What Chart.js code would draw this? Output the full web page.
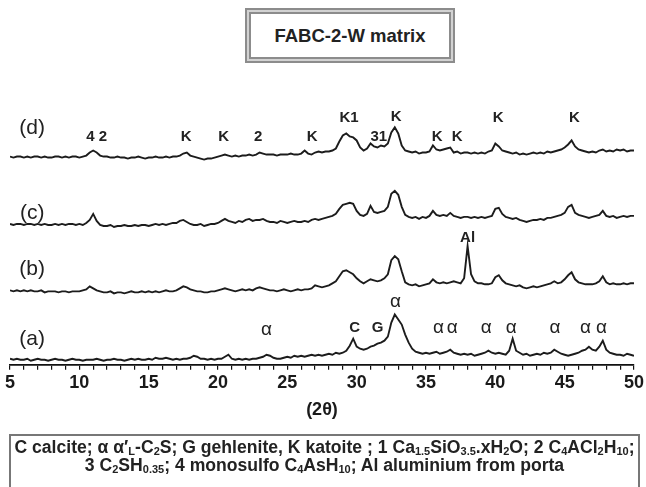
<!DOCTYPE html>
<html>
<head>
<meta charset="utf-8">
<script src="https://cdn.jsdelivr.net/npm/chart.js@4.4.1/dist/chart.umd.min.js"></script>
<style>
  body { margin: 0; background: #fff; }
  #wrap { position: relative; width: 646px; height: 487px; overflow: hidden; font-family: "Liberation Sans", Arial, sans-serif; }
  #chart { position: absolute; left: 0; top: 0; }
  #titleBox {
    position: absolute; left: 245px; top: 8px; width: 202px; height: 47px;
    border: 2px solid #8c8c8c; background: #d2d2d2; padding: 2px; box-sizing: content-box;
  }
  #titleInner {
    width: 100%; height: 100%; box-sizing: border-box; border: 2px solid #8c8c8c; background: #fff;
    display: flex; align-items: center; justify-content: center;
    font-weight: bold; font-size: 18.5px; color: #222;
  }
  #keyBox {
    position: absolute; left: 9px; top: 434px; width: 631px; height: 70px; box-sizing: border-box;
    border: 2px solid #777; text-align: center; font-weight: bold; font-size: 17.6px; line-height: 18px;
    color: #222; padding-top: 2px; white-space: nowrap;
  }
  #keyBox sub { font-size: 11px; vertical-align: -2px; line-height: 0; }
</style>
</head>
<body>
<div id="wrap">
  <canvas id="chart" width="646" height="487"></canvas>
  <div id="titleBox"><div id="titleInner">FABC-2-W matrix</div></div>
  <div id="keyBox">
    C calcite; &alpha; &alpha;&prime;<sub>L</sub>-C<sub>2</sub>S; G gehlenite, K katoite ; 1 Ca<sub>1.5</sub>SiO<sub>3.5</sub>.xH<sub>2</sub>O; 2 C<sub>4</sub>ACl<sub>2</sub>H<sub>10</sub>;<br>
    3 C<sub>2</sub>SH<sub>0.35</sub>; 4 monosulfo C<sub>4</sub>AsH<sub>10</sub>; Al aluminium from porta
  </div>
</div>
<script>
// 2theta sampling of the patterns
const angleStart = 5;
const angleStep = 0.25;

// intensities (arbitrary units), one value per 0.25 deg from 5 to 50
const traceA = [
  6,5,6,5, 5,6,4,5, 6,5,5,4, 5,6,5,5, 4,5,6,5,
  5,4,5,5, 5,6,5,4, 5,5,6,5, 5,4,5,6, 5,6,5,5,
  6,5,7,6, 6,7,6,5, 6,5,6,6, 7,9,8,6, 6,5,6,5,
  6,6,8,10, 6,5,6,5, 6,5,6,6, 7,8,10,9, 7,6,6,7,
  8,7,9,8, 9,8,9,10, 9,10,9,10, 11,10,12,11, 12,14,19,26,
  18,16,15,16, 18,19,21,22, 24,28,42,50, 45,40,30,22, 16,13,12,11,
  12,11,12,13, 11,12,13,15, 12,11,10,11, 10,11,9,10, 11,12,14,12,
  11,12,11,10, 14,26,14,12, 10,11,9,10, 11,10,12,11, 12,15,13,11,
  10,9,10,11, 12,14,15,18, 15,14,18,24, 15,12,11,10, 10,9,11,10,
  9,
];
const traceB = [
  6,5,6,5, 6,5,6,5, 5,6,4,5, 5,5,4,5, 5,4,5,5,
  5,6,7,10, 8,6,5,4, 4,5,3,4, 4,3,4,5, 4,4,5,4,
  5,4,5,4, 5,6,5,5, 6,8,10,9, 7,6,5,5, 4,4,5,5,
  6,7,8,7, 6,5,6,7, 6,7,6,8, 9,8,7,6, 6,5,6,7,
  6,5,6,7, 6,7,7,8, 11,10,9,10, 11,13,15,20, 25,26,24,22,
  18,15,13,15, 17,16,15,16, 18,22,36,40, 37,25,14,12, 11,12,10,11,
  12,13,17,14, 13,14,13,14, 15,14,13,18, 50,22,15,13, 13,12,12,13,
  19,21,16,13, 12,11,10,11, 9,8,9,10, 9,10,11,12, 13,15,13,14,
  17,21,24,17, 14,13,12,12, 12,13,15,20, 14,12,13,12, 12,13,12,13,
  13,
];
const traceC = [
  5,4,5,5, 4,5,5,4, 5,4,5,4, 4,5,4,5, 4,5,5,4,
  5,4,6,9, 15,8,4,3, 3,4,2,3, 3,4,3,3, 4,3,4,4,
  3,4,5,4, 5,4,5,6, 6,8,9,7, 5,4,4,5, 3,4,5,5,
  6,8,10,8, 7,6,8,7, 9,10,8,9, 9,10,8,7, 7,6,8,7,
  6,7,8,7, 7,8,7,9, 10,9,10,11, 12,13,15,20, 24,25,26,25,
  18,14,13,15, 23,17,16,17, 18,22,35,38, 34,22,14,12, 11,12,10,12,
  11,13,18,14, 13,14,13,16, 13,12,11,12, 12,11,12,11, 12,11,12,13,
  20,21,15,12, 11,10,11,9, 8,7,8,9, 9,10,9,11, 11,12,13,14,
  16,22,24,16, 14,13,12,11, 12,13,14,18, 13,12,13,11, 12,13,12,13,
  13,
];
const traceD = [
  7,6,7,7, 6,7,6,7, 7,6,7,6, 6,7,7,6, 7,6,7,7,
  6,7,8,11, 13,11,8,7, 7,6,6,7, 6,6,5,6, 6,7,6,5,
  6,6,7,6, 6,7,6,7, 7,8,10,11, 8,7,6,5, 4,5,5,6,
  7,8,9,8, 7,8,7,8, 8,9,8,9, 11,10,9,9, 9,8,9,9,
  9,10,9,9, 10,13,10,9, 11,12,11,12, 12,13,15,22, 28,30,27,26,
  23,16,13,15, 20,17,16,18, 17,20,31,36, 30,18,13,12, 11,12,10,11,
  11,12,18,14, 13,14,15,16, 11,12,10,11, 11,10,11,10, 11,10,12,13,
  20,17,13,12, 11,10,11,9, 10,9,10,11, 10,11,10,12, 11,12,13,14,
  16,19,23,17, 14,13,12,11, 12,11,13,14, 12,13,12,14, 13,14,12,13,
  13,
];

const traces = [traceA, traceB, traceC, traceD];
const traceNames = ["(a)", "(b)", "(c)", "(d)"];
const traceOffsets = [0, 68, 135, 200];

// peak identifications: [2theta, height, text]
const phaseLabels = [
  [10.8, 227, "4"], [11.7, 227, "2"], [17.7, 227, "K"], [20.4, 227, "K"],
  [22.9, 227, "2"], [26.8, 227, "K"], [29.45, 245, "K1"], [32.85, 246, "K"],
  [31.6, 227, "31"], [35.8, 227, "K"], [37.25, 227, "K"], [40.2, 245, "K"],
  [45.7, 245, "K"], [38.0, 126, "Al"], [29.85, 37, "C"], [31.5, 37, "G"],
];
const alphaLabels = [
  [23.5, 35], [32.8, 63], [35.9, 37], [36.9, 37], [39.35, 37],
  [41.15, 37], [44.3, 37], [46.5, 37], [47.65, 37],
];
const nameAngle = 6.6;
const nameHeights = [25, 95, 151, 235];

const labelPlugin = {
  id: "peakLabels",
  afterDatasetsDraw(chart) {
    const ctx = chart.ctx;
    const xs = chart.scales.x;
    const ys = chart.scales.y;
    ctx.save();
    ctx.fillStyle = "#222";
    ctx.textAlign = "center";
    ctx.textBaseline = "middle";
    ctx.font = "bold 15px 'Liberation Sans', Arial, sans-serif";
    phaseLabels.forEach(([a, h, t]) => {
      ctx.fillText(t, xs.getPixelForValue(a), ys.getPixelForValue(h));
    });
    ctx.font = "19px 'Liberation Sans', Arial, sans-serif";
    alphaLabels.forEach(([a, h]) => {
      ctx.fillText("\u03b1", xs.getPixelForValue(a), ys.getPixelForValue(h));
    });
    ctx.font = "21px 'Liberation Sans', Arial, sans-serif";
    traceNames.forEach((n, i) => {
      ctx.fillText(n, xs.getPixelForValue(nameAngle), ys.getPixelForValue(nameHeights[i]));
    });
    ctx.restore();
  },
};

const datasets = traces.map((vals, i) => ({
  label: traceNames[i],
  data: vals.map((v, k) => ({ x: angleStart + k * angleStep, y: v + traceOffsets[i] })),
  borderColor: "#1c1c1c",
  borderWidth: 1.9,
  pointRadius: 0,
  tension: 0,
  fill: false,
}));

new Chart(document.getElementById("chart"), {
  type: "line",
  data: { datasets: datasets },
  options: {
    responsive: false,
    animation: false,
    layout: { padding: { left: 10, right: 11, top: 63, bottom: 62 } },
    plugins: { legend: { display: false }, tooltip: { enabled: false } },
    scales: {
      x: {
        type: "linear",
        min: 5,
        max: 50,
        grid: { drawOnChartArea: false, drawTicks: true, tickLength: 5, color: "#111", lineWidth: 1.2 },
        border: { display: true, color: "#111", width: 1.8 },
        ticks: {
          stepSize: 1,
          autoSkip: false,
          maxRotation: 0,
          padding: 2,
          color: "#1a1a1a",
          font: { family: "'Liberation Sans', Arial, sans-serif", size: 18, weight: "bold" },
          callback: (v) => (v % 5 === 0 ? String(v) : ""),
        },
        title: {
          display: true,
          text: "(2\u03b8)",
          color: "#1a1a1a",
          font: { family: "'Liberation Sans', Arial, sans-serif", size: 18, weight: "bold" },
          padding: { top: 4, bottom: 4 },
        },
      },
      y: { display: false, min: 0, max: 300 },
    },
  },
  plugins: [labelPlugin],
});
</script>
</body>
</html>
